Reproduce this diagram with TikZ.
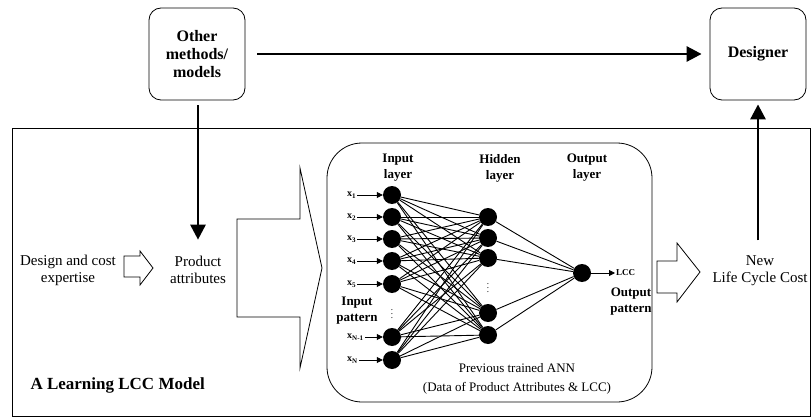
\documentclass[tikz,border=0pt]{standalone}
\usepackage{fontspec}
\setmainfont{Liberation Serif}
\usetikzlibrary{positioning,arrows.meta}

\tikzset{
  box/.style={draw, line width=0.8pt, rounded corners=12pt, align=center,
    font=\fontsize{16}{18}\selectfont\bfseries},
  txt/.style={align=center, font=\fontsize{15}{17}\selectfont},
  small/.style={align=center, font=\fontsize{13}{16}\selectfont\bfseries},
  xlab/.style={anchor=west, inner sep=1pt, font=\fontsize{10}{12}\selectfont\bfseries},
  neuron/.style={circle, fill=black, minimum size=18pt, inner sep=0pt},
  link/.style={line width=0.9pt},
  vdot/.style={inner sep=0pt, font=\small},
  bigarrow/.style={line width=2.8pt, -{Triangle[length=15pt,width=15pt]}},
  tinyarrow/.style={line width=0.8pt, -{Triangle[length=6pt,width=6pt]}},
  hollow/.style={draw, line width=0.8pt, fill=white}
}

\begin{document}
\begin{tikzpicture}[x=1pt,y=-1pt]
\useasboundingbox (0,0) rectangle (812,420);

% frame of the learning model
\draw[line width=0.8pt] (12,128) rectangle (810,416);
\node[anchor=west, font=\fontsize{17}{19}\selectfont\bfseries] (title) at (27,385) {A Learning LCC Model};

% top boxes
\node[box, minimum width=96pt, minimum height=92pt] (other) at (197,54) {Other\\methods/\\models};
\node[box, minimum width=96pt, minimum height=92pt] (designer) at (758,54) {Designer};
\draw[bigarrow, shorten <=12pt, shorten >=8pt] (other) -- (designer);

% left side
\node[txt] (expert) at (68,270) {Design and cost\\expertise};
\node[txt] (prod) at (198,270) {Product\\attributes};
\draw[bigarrow, shorten <=5pt, shorten >=13pt] (other.south -| prod.north) -- (prod.north);
\draw[hollow] (124,256) -- (140,256) -- (140,251) -- (153,268) -- (140,285) -- (140,277) -- (124,277) -- cycle;
\draw[hollow] (237,219) -- (300,219) -- (300,168) -- (322,268) -- (300,368) -- (300,317) -- (237,317) -- cycle;

% trained network
\draw[line width=0.8pt, rounded corners=35pt] (327,143) rectangle (652,402);
\node[small] (inlayer) at (398,168) {Input\\layer};
\node[small] (hidlayer) at (500,168) {Hidden\\layer};
\node[small] (outlayer) at (587,168) {Output\\layer};

\foreach \y [count=\i] in {195,217,239,261,284,337,360}
  \node[neuron] (in\i) at (392,\y) {};
\foreach \y [count=\j] in {217,238,258,313,335}
  \node[neuron] (hid\j) at (488,\y) {};
\node[neuron] (out) at (582,273) {};

\foreach \i in {1,...,7}
  \foreach \j in {1,...,5}
    \draw[link] (in\i) -- (hid\j);
\foreach \j in {1,...,5}
  \draw[link] (hid\j) -- (out);

\foreach \y/\lab [count=\i] in {195/1,217/2,239/3,261/4,284/5,337/N-1,360/N} {
  \node[xlab] (x\i) at (346,\y) {x\textsubscript{\lab}};
  \draw[tinyarrow] (x\i) -- (in\i);
}
\node[vdot] (indots) at (392,311) {$\vdots$};
\node[vdot] (hiddots) at (488,285) {$\vdots$};
\node[small] (inpat) at (357,311) {Input\\pattern};

\node[anchor=west, inner sep=1pt, font=\fontsize{9}{11}\selectfont\bfseries] (lcc) at (615,273) {LCC};
\draw[tinyarrow] (out) -- (lcc);
\node[small] (outpat) at (631,302) {Output\\pattern};
\node[align=center, font=\fontsize{13}{19}\selectfont] (prev) at (517,379) {Previous trained ANN\\(Data of Product Attributes \& LCC)};

% right side
\draw[hollow] (657,261) -- (677,261) -- (677,243) -- (700,272) -- (677,302) -- (677,293) -- (657,293) -- cycle;
\node[txt] (life) at (760,271) {New\\Life Cycle Cost};
\draw[bigarrow, shorten <=12pt, shorten >=4pt] (designer.south |- life.north) -- (designer.south);
\end{tikzpicture}
\end{document}
